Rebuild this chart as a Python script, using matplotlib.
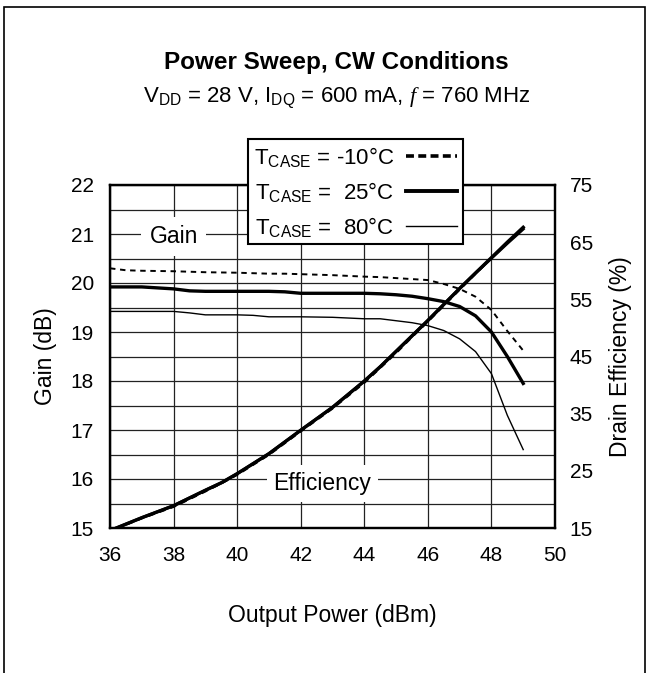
import matplotlib
matplotlib.use("Agg")
import matplotlib.pyplot as plt
from matplotlib.lines import Line2D
from matplotlib.patches import Rectangle

plt.rcParams['font.family'] = ['Liberation Sans', 'DejaVu Sans']
plt.rcParams['mathtext.fontset'] = 'custom'
plt.rcParams['mathtext.rm'] = 'Liberation Sans'
plt.rcParams['mathtext.it'] = 'Liberation Serif:italic'

# gain curves (dB) vs output power (dBm)
pout_gain = [36, 36.5, 37, 38, 38.5, 39, 40, 40.5, 41, 41.5, 42, 43, 44, 44.5, 45, 45.5, 46, 46.5, 47, 47.5, 48, 48.5, 49]
gain_m10 = [20.30, 20.26, 20.25, 20.24, 20.23, 20.22, 20.21, 20.20, 20.19, 20.19, 20.18, 20.16, 20.13, 20.12, 20.10, 20.08, 20.06, 19.98, 19.88, 19.72, 19.45, 19.02, 18.62]
gain_25 = [19.92, 19.92, 19.92, 19.88, 19.84, 19.83, 19.83, 19.83, 19.83, 19.82, 19.79, 19.79, 19.79, 19.78, 19.76, 19.73, 19.68, 19.62, 19.52, 19.33, 19.00, 18.50, 17.95]
gain_80 = [19.42, 19.42, 19.42, 19.42, 19.39, 19.35, 19.35, 19.34, 19.31, 19.31, 19.31, 19.30, 19.27, 19.27, 19.23, 19.19, 19.13, 19.03, 18.86, 18.60, 18.15, 17.30, 16.60]

# drain efficiency (%) vs output power (dBm)
pout_eff = [36.2, 37, 38, 39, 39.5, 40, 41, 42, 43, 44, 44.5, 45, 45.5, 46, 46.5, 47, 47.5, 48, 48.5, 49]
eff_m10 = [14.9, 16.7, 18.7, 21.4, 22.8, 24.3, 27.8, 31.9, 35.9, 40.4, 43.0, 45.6, 48.4, 51.1, 53.9, 56.7, 59.5, 62.2, 64.9, 67.4]
eff_25 = [15.0, 16.8, 18.9, 21.6, 22.9, 24.5, 28.0, 32.1, 36.1, 40.7, 43.2, 45.9, 48.6, 51.3, 54.1, 56.9, 59.6, 62.3, 65.0, 67.6]
eff_80 = [15.0, 16.8, 18.9, 21.6, 22.9, 24.5, 28.0, 32.1, 36.1, 40.7, 43.2, 45.9, 48.6, 51.3, 54.1, 56.9, 59.6, 62.2, 64.8, 67.3]

legend_labels = [r'T$_{\mathrm{CASE}}$ = -10°C', r'T$_{\mathrm{CASE}}$ =  25°C', r'T$_{\mathrm{CASE}}$ =  80°C']

fig = plt.figure(figsize=(6.51, 6.73), dpi=100)
ax = fig.add_axes([110/651, 1 - 528/673, 445/651, 343/673])
ax2 = ax.twinx()

dash = (0, (2.8, 2.4))
ax.plot(pout_gain, gain_m10, color='black', lw=1.4, linestyle=dash)
ax.plot(pout_gain, gain_25, color='black', lw=2.4)
ax.plot(pout_gain, gain_80, color='black', lw=1.0)

ax2.plot(pout_eff, eff_80, color='black', lw=2.2)
ax2.plot(pout_eff, eff_m10, color='black', lw=1.6, linestyle=dash)
ax2.plot(pout_eff, eff_25, color='black', lw=2.4)

ax.set_xlim(36, 50)
ax.set_ylim(15, 22)
ax2.set_ylim(15, 75)
ax.set_xticks(range(36, 51, 2))
ax.set_yticks(range(15, 23))
ax.set_yticks([15 + 0.5 * i for i in range(15)], minor=True)
ax2.set_yticks(range(15, 76, 10))
ax.grid(True, which='both', color='#222222', lw=0.9)
ax.tick_params(which='both', length=0, labelsize=15)
ax.tick_params(axis='y', pad=11.5)
ax.tick_params(axis='x', pad=13)
ax2.tick_params(length=0, labelsize=15, pad=10.5)
for a in (ax, ax2):
    for s in a.spines.values():
        s.set_linewidth(1.6)

ax.set_xlabel('Output Power (dBm)', fontsize=16.5, labelpad=28)
ax.set_ylabel('Gain (dB)', fontsize=16.5, labelpad=10)
ax2.set_ylabel('Drain Efficiency (%)', fontsize=16.5, labelpad=12)

ax.text(38.0, 20.95, 'Gain', fontsize=16.5, ha='center', va='center', zorder=5,
        bbox=dict(facecolor='white', edgecolor='none', pad=6))
ax.text(42.68, 15.91, 'Efficiency', fontsize=16.5, ha='center', va='center', zorder=5,
        bbox=dict(facecolor='white', edgecolor='none', pad=5))

fig.text(0.517, 1 - 63/673, 'Power Sweep, CW Conditions', fontsize=17.5, fontweight='bold',
         ha='center', va='center')
fig.text(0.517, 1 - 98/673, r'V$_{\mathrm{DD}}$ = 28 V, I$_{\mathrm{DQ}}$ = 600 mA, $f$ = 760 MHz',
         fontsize=16, ha='center', va='center')

handles = [Line2D([], [], color='black', lw=2.6, linestyle=(0, (2.2, 1.2))),
           Line2D([], [], color='black', lw=2.8),
           Line2D([], [], color='black', lw=1.0)]
leg = fig.legend(handles, legend_labels, loc='upper left', bbox_to_anchor=(248/651, 1 - 139/673),
                 markerfirst=False, fontsize=16, frameon=True, fancybox=False, framealpha=1,
                 edgecolor='black', borderpad=0.25, labelspacing=0.5, handlelength=2.3,
                 handletextpad=0.55, borderaxespad=0)
leg.get_frame().set_linewidth(1.5)
leg.set_zorder(10)

fig.patches.append(Rectangle((4/651, -0.01), 641/651, 1.0, transform=fig.transFigure,
                             fill=False, edgecolor='black', lw=1.2))

fig.savefig('out.png', dpi=100)
